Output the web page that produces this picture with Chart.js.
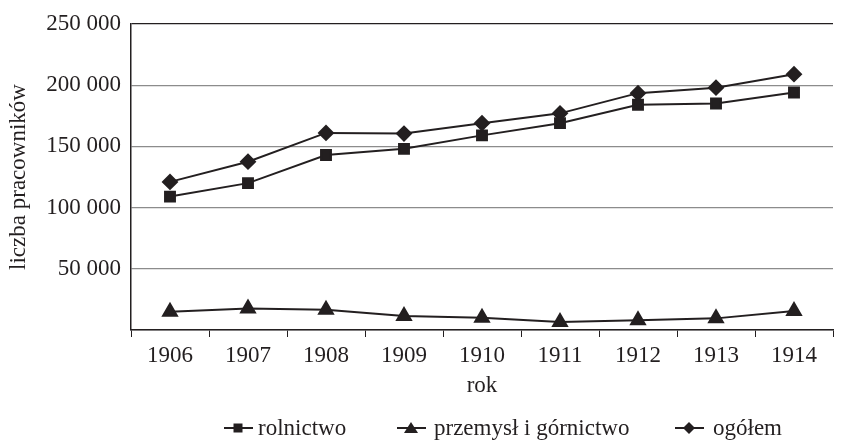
<!DOCTYPE html>
<html>
<head>
<meta charset="utf-8">
<script src="https://cdn.jsdelivr.net/npm/chart.js@4/dist/chart.umd.min.js"></script>
<style>
  body { margin: 0; background: #fff; }
  #wrap { width: 849px; height: 441px; position: relative; }
</style>
</head>
<body>
<div id="wrap"><canvas id="chart"></canvas></div>
<script>
// years on the x axis
const years = ['1906', '1907', '1908', '1909', '1910', '1911', '1912', '1913', '1914'];

// number of workers per year
const rolnictwo = [109000, 120000, 143000, 148000, 159000, 169000, 184000, 185000, 194000];
const przemysl = [15000, 17500, 16500, 11500, 10000, 6500, 8000, 9500, 15500];
const ogolem = [121000, 137500, 161000, 160500, 169000, 177000, 193500, 198000, 209000];

const seriesNames = ['rolnictwo', 'przemysł i górnictwo', 'ogółem'];

const ink = '#231f20';
const fontFamily = '"Liberation Serif", "DejaVu Serif", serif';
const fontSize = 23;

function fmt(v) {
    if (v === 0) return '';
    return String(v).replace(/\B(?=(\d{3})+(?!\d))/g, ' ');
}

// legend drawn by hand: line with marker in the middle, like the original
const lineLegend = {
    id: 'lineLegend',
    afterDraw(chart) {
        const ctx = chart.ctx;
        const y = 428;
        const starts = [224, 397, 675];
        const textGap = [34, 37, 38];
        const shapes = ['rect', 'triangle', 'rectRot'];
        ctx.save();
        ctx.font = fontSize + 'px ' + fontFamily;
        ctx.textBaseline = 'middle';
        ctx.fillStyle = ink;
        ctx.strokeStyle = ink;
        ctx.lineWidth = 2;
        seriesNames.forEach((name, i) => {
            const x = starts[i];
            ctx.beginPath();
            ctx.moveTo(x, y);
            ctx.lineTo(x + 29, y);
            ctx.stroke();
            const cx = x + 14;
            ctx.beginPath();
            if (shapes[i] === 'rect') {
                ctx.rect(cx - 4.5, y - 4.5, 9, 9);
            } else if (shapes[i] === 'triangle') {
                ctx.moveTo(cx, y - 6);
                ctx.lineTo(cx + 7, y + 5);
                ctx.lineTo(cx - 7, y + 5);
                ctx.closePath();
            } else {
                ctx.moveTo(cx, y - 6);
                ctx.lineTo(cx + 6, y);
                ctx.lineTo(cx, y + 6);
                ctx.lineTo(cx - 6, y);
                ctx.closePath();
            }
            ctx.fill();
            ctx.fillText(name, x + textGap[i], y + 1);
        });
        ctx.restore();
    }
};

const ctx = document.getElementById('chart').getContext('2d');
new Chart(ctx, {
    type: 'line',
    data: {
        labels: years,
        datasets: [
            {
                label: seriesNames[0],
                data: rolnictwo,
                borderColor: ink,
                backgroundColor: ink,
                borderWidth: 2,
                pointStyle: 'rect',
                pointRadius: 7,
                tension: 0
            },
            {
                label: seriesNames[1],
                data: przemysl,
                borderColor: ink,
                backgroundColor: ink,
                borderWidth: 2,
                pointStyle: 'triangle',
                pointRadius: 8,
                tension: 0
            },
            {
                label: seriesNames[2],
                data: ogolem,
                borderColor: ink,
                backgroundColor: ink,
                borderWidth: 2,
                pointStyle: 'rectRot',
                pointRadius: 7,
                tension: 0
            }
        ]
    },
    options: {
        responsive: true,
        maintainAspectRatio: false,
        animation: false,
        layout: {
            padding: { left: 0, top: 24, right: 16, bottom: 41 }
        },
        plugins: {
            legend: { display: false },
            tooltip: { enabled: false }
        },
        scales: {
            x: {
                offset: true,
                grid: {
                    offset: true,
                    drawOnChartArea: false,
                    drawTicks: true,
                    tickLength: 7,
                    color: ink
                },
                border: { display: true, color: ink, width: 1.5 },
                ticks: {
                    color: ink,
                    padding: 5,
                    font: { family: fontFamily, size: fontSize }
                },
                title: {
                    display: true,
                    text: 'rok',
                    color: ink,
                    padding: { top: 4, bottom: 0 },
                    font: { family: fontFamily, size: fontSize }
                },
                afterFit(scale) { scale.height = 70; }
            },
            y: {
                min: 0,
                max: 250000,
                grid: {
                    drawTicks: false,
                    color: c => c.tick && c.tick.value === 250000 ? ink : '#8c8c8c',
                    lineWidth: 1.2
                },
                border: { display: true, color: ink, width: 1.5 },
                ticks: {
                    stepSize: 50000,
                    color: ink,
                    padding: 10,
                    font: { family: fontFamily, size: fontSize },
                    callback: v => fmt(v)
                },
                title: {
                    display: true,
                    text: 'liczba pracowników',
                    color: ink,
                    padding: { top: 5, bottom: 0 },
                    font: { family: fontFamily, size: fontSize }
                },
                afterFit(scale) { scale.width = 131; }
            }
        }
    },
    plugins: [lineLegend]
});
</script>
</body>
</html>
